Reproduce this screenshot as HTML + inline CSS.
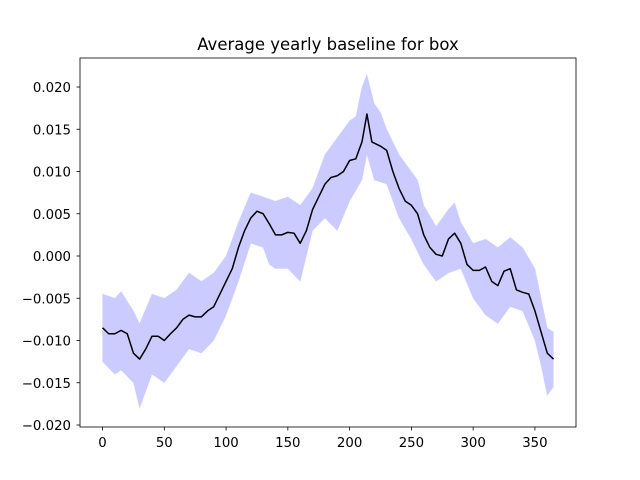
<!DOCTYPE html>
<html><head><meta charset="utf-8"><style>
body{margin:0;background:#fff}
svg{display:block;font-family:"DejaVu Sans","Liberation Sans",sans-serif}
</style></head><body>
<svg id="chart" width="640" height="480">
<rect width="640" height="480" fill="#fff"/>
<text x="328" y="50" text-anchor="middle" font-size="16.5">Average yearly baseline for box</text>
<g id="plot"></g>
</svg>
<script>
const meanDays=[0,5,10,15,20,25,30,35,40,45,50,55,60,65,70,75,80,85,90,95,100,105,110,115,120,125,130,135,140,145,150,155,160,165,170,175,180,185,190,195,200,205,210,214,218,225,230,235,240,245,250,255,260,265,270,275,280,285,290,295,300,305,310,315,320,325,330,335,340,345,350,355,360,365];
const meanVals=[-0.0085,-0.0092,-0.0092,-0.0088,-0.0092,-0.0115,-0.0122,-0.0110,-0.0095,-0.0095,-0.0100,-0.0092,-0.0085,-0.0075,-0.0070,-0.0072,-0.0072,-0.0065,-0.0060,-0.0045,-0.0030,-0.0015,0.0010,0.0030,0.0045,0.0053,0.0050,0.0038,0.0025,0.0025,0.0028,0.0027,0.0015,0.0030,0.0055,0.0070,0.0085,0.0093,0.0095,0.0100,0.0113,0.0115,0.0135,0.0168,0.0135,0.0130,0.0125,0.0100,0.0080,0.0065,0.0060,0.0050,0.0025,0.0010,0.0002,0.0000,0.0020,0.0027,0.0015,-0.0010,-0.0017,-0.0017,-0.0013,-0.0030,-0.0035,-0.0018,-0.0015,-0.0040,-0.0043,-0.0045,-0.0065,-0.0090,-0.0115,-0.0122];
const upperDays=[0,10,15,25,30,40,50,60,70,80,90,100,110,120,130,140,150,160,170,180,190,200,205,210,214,220,225,230,240,250,255,260,270,280,285,290,300,310,320,330,340,350,360,365];
const upperVals=[-0.0045,-0.0050,-0.0042,-0.0065,-0.0080,-0.0045,-0.0050,-0.0040,-0.0020,-0.0030,-0.0020,0.0000,0.0040,0.0075,0.0070,0.0065,0.0070,0.0060,0.0080,0.0120,0.0140,0.0160,0.0165,0.0200,0.0215,0.0180,0.0170,0.0150,0.0120,0.0100,0.0090,0.0060,0.0035,0.0055,0.0063,0.0040,0.0015,0.0020,0.0010,0.0022,0.0010,-0.0015,-0.0085,-0.0090];
const lowerDays=[0,10,15,25,30,40,50,60,70,80,90,100,110,120,130,135,140,150,160,170,180,190,200,210,214,220,230,240,250,260,270,280,290,300,305,310,320,330,340,350,355,360,365];
const lowerVals=[-0.0125,-0.0140,-0.0135,-0.0150,-0.0180,-0.0140,-0.0150,-0.0130,-0.0110,-0.0115,-0.0100,-0.0070,-0.0030,0.0015,0.0010,-0.0010,-0.0015,-0.0015,-0.0030,0.0030,0.0045,0.0030,0.0065,0.0090,0.0120,0.0090,0.0085,0.0045,0.0020,-0.0010,-0.0030,-0.0020,-0.0015,-0.0050,-0.0060,-0.0070,-0.0080,-0.0060,-0.0065,-0.0100,-0.0130,-0.0165,-0.0155];
const xTicks=[0,50,100,150,200,250,300,350];
const yTicks=[-0.020,-0.015,-0.010,-0.005,0.000,0.005,0.010,0.015,0.020];

const L=80,R=576,T=58,B=427;
const x=d=>L+(d+18.25)/401.5*(R-L);
const y=v=>256-v/0.005*42.25;
const NS="http://www.w3.org/2000/svg";
const g=document.getElementById('plot');
function mk(t,a){const e=document.createElementNS(NS,t);for(const k in a)e.setAttribute(k,a[k]);g.appendChild(e);return e;}
let pts=upperDays.map((d,i)=>x(d)+','+y(upperVals[i]));
for(let i=lowerDays.length-1;i>=0;i--)pts.push(x(lowerDays[i])+','+y(lowerVals[i]));
const band=mk('polygon',{points:pts.join(' '),fill:'#0000ff',opacity:'0.2',stroke:'#0000ff','stroke-opacity':'0.3'});


const line=mk('polyline',{points:meanDays.map((d,i)=>x(d)+','+y(meanVals[i])).join(' '),fill:'none',stroke:'#000','stroke-width':'1.5','stroke-linejoin':'round'});


const frame=mk('rect',{x:L,y:T,width:R-L,height:B-T,fill:'none',stroke:'#000','stroke-width':'0.8'});


xTicks.forEach(t=>{
  mk('line',{x1:x(t),x2:x(t),y1:B,y2:B+3.5,stroke:'#000','stroke-width':'0.8'});
  const tx=mk('text',{x:x(t),y:B+20,'text-anchor':'middle','font-size':'13.3'});
  tx.textContent=t;
  
  
});
yTicks.forEach(t=>{
  mk('line',{x1:L-3.5,x2:L,y1:y(t),y2:y(t),stroke:'#000','stroke-width':'0.8'});
  const tx=mk('text',{x:L-9,y:y(t)+5,'text-anchor':'end','font-size':'13.3'});
  tx.textContent=(t<0?'\u2212':'')+Math.abs(t).toFixed(3);
  
  
});
</script>
</body></html>
